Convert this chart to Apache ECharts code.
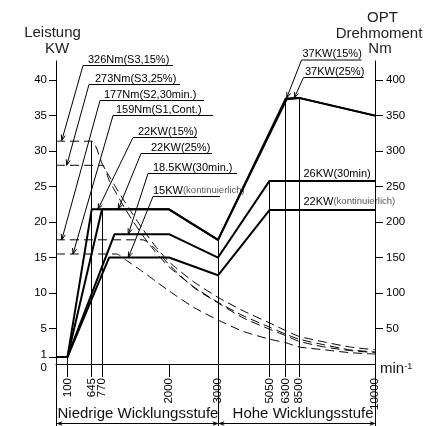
<!DOCTYPE html>
<html>
<head>
<meta charset="utf-8">
<script src="https://cdn.jsdelivr.net/npm/echarts@6/dist/echarts.min.js"></script>
<style>
  html, body { margin: 0; padding: 0; background: #fff; }
  #main { width: 444px; height: 426px; }
</style>
</head>
<body>
<div id="main"></div>
<script>
/* Drehzahl-Ticks (min-1) */
const rpmTicks = [100, 645, 770, 2000, 3000, 5050, 6300, 8500, 10000]
/* nicht lineare Abszisse: Drehzahl -> Skalenteil */
const scaleRpm = [0, 100, 645, 770, 2000, 3000, 5050, 6300, 8500, 10000]
const scalePos = [0, 11.5, 35.7, 46, 113, 162, 213.5, 229.7, 243, 319]

/* Leistung kW  [rpm, kW] */
const p15 = [[0, 1], [100, 1], [645, 21.8], [2000, 21.8], [3000, 17.5], [6300, 37.4], [8500, 37.5], [10000, 35]]
const p25 = [[0, 1], [100, 1], [770, 21.8], [2000, 21.8], [3000, 17.5], [6450, 37.3], [8500, 37.5], [10000, 35]]
const p30 = [[0, 1], [100, 1], [1000, 18.3], [2000, 18.3], [3000, 15], [5050, 25.8], [10000, 25.8]]
const pS1 = [[0, 1], [100, 1], [900, 15], [2000, 15], [3000, 12.5], [5050, 21.7], [10000, 21.7]]

/* Drehmoment Nm  [rpm, Nm] */
const tS3a = [[0, 314], [645, 314], [770, 283], [900, 265], [1000, 252], [1200, 227], [1500, 192], [1750, 166], [2000, 144], [2500, 116], [3000, 94], [4000, 75], [5050, 58], [6300, 47], [8500, 39], [9000, 31], [9500, 24], [10000, 20]]
const tS3b = [[0, 280], [770, 280], [900, 259], [1000, 245], [1200, 218], [1500, 183], [1750, 158], [2000, 137], [2500, 109], [3000, 87], [4000, 68], [5050, 52], [6300, 42], [8500, 35], [9000, 27], [9500, 20], [10000, 17]]
const tS2 = [[0, 175], [1520, 175], [1750, 162], [2000, 140], [2500, 108], [3000, 86], [4000, 65], [5050, 49], [6300, 40], [8500, 32], [9000, 24], [9500, 19], [10000, 16]]
const tS1 = [[0, 155], [1040, 155], [1200, 147], [1500, 131], [1750, 117], [2000, 103], [2500, 80], [3000, 62], [4000, 46], [5050, 35], [6300, 30], [8500, 24], [9000, 20], [9500, 16], [10000, 14]]

/* senkrechte Hilfslinien: Drehzahl und Höhe (kW) */
const dropRpm = [100, 645, 770, 3000, 5050, 6300, 8500]
const dropTop = [1, 31.4, 21.8, 17.5, 25.8, 37.4, 37.5]

const kwTicks = [1, 5, 10, 15, 20, 25, 30, 35, 40]
const nmTicks = [50, 100, 150, 200, 250, 300, 350, 400]

/* Beschriftungen mit Hinweispfeil */
const noteTexts = ['326Nm(S3,15%)', '273Nm(S3,25%)', '177Nm(S2,30min.)', '159Nm(S1,Cont.)',
  '22KW(15%)', '22KW(25%)', '18.5KW(30min.)', '15KW', '37KW(15%)', '37KW(25%)']
const noteSub = ['', '', '', '', '', '', '', '(kontinuierlich)', '', '']
/* Pfeilspitze: [rpm, Wert, Achse] */
const noteTips = [[50, 315, 1], [93, 280, 1], [50, 175, 1], [224, 155, 1],
  [721, 21.8, 0], [1069, 21.8, 0], [1253, 18.3, 0], [1253, 15, 0], [6465, 37.5, 0], [7720, 37.5, 0]]
/* Layout: Unterstrich x0, x1, y, Text-x */
const noteBox = [[83, 173, 65.5, 88], [89, 180, 84.5, 95], [100, 204, 100.5, 104], [113, 213, 115.5, 116],
  [133, 197, 137.5, 138], [141, 212, 153.5, 151], [148, 237, 173.5, 153], [153, 220, 196.5, 153],
  [301.5, 361.5, 60, 302.5], [303.5, 363.5, 77.5, 305]]

const toU = r => {
  for (let i = 1; i < scaleRpm.length; i++) {
    if (r <= scaleRpm[i]) {
      const t = (r - scaleRpm[i - 1]) / (scaleRpm[i] - scaleRpm[i - 1])
      return scalePos[i - 1] + t * (scalePos[i] - scalePos[i - 1])
    }
  }
  return scalePos[scalePos.length - 1]
}
const conv = arr => arr.map(p => [toU(p[0]), p[1]])
const tickU = rpmTicks.map(toU)

const FONT = '"Liberation Sans", Arial, sans-serif'
const NOTE = '11px ' + FONT
const SMALL = '9.5px ' + FONT
const TITLE = '15px ' + FONT

const chart = echarts.init(document.getElementById('main'))

const powerSeries = [p15, p25, p30, pS1].map((d, i) => ({
  type: 'line',
  yAxisIndex: 0,
  data: conv(d),
  symbol: 'none',
  lineStyle: { color: '#000', width: 2 },
  z: 3,
  animation: false,
  silent: true,
  markLine: i === 0 ? {
    symbol: ['none', 'none'],
    silent: true,
    animation: false,
    label: { show: false },
    lineStyle: { color: '#000', width: 1, type: 'solid' },
    data: dropRpm.map((r, k) => [{ coord: [toU(r), 0] }, { coord: [toU(r), dropTop[k]] }])
  } : undefined
}))

const torqueSeries = [tS3a, tS3b, tS2, tS1].map(d => ({
  type: 'line',
  yAxisIndex: 1,
  data: conv(d),
  symbol: 'none',
  smooth: 0.2,
  lineStyle: { color: '#000', width: 1, type: [9, 5] },
  z: 2,
  animation: false,
  silent: true
}))

chart.setOption({
  animation: false,
  backgroundColor: '#fff',
  grid: { left: 56, right: 69, top: 61, bottom: 62, containLabel: false, outerBoundsMode: 'none' },
  xAxis: {
    type: 'value',
    min: 0,
    max: 319,
    axisLine: { show: true, onZero: false, lineStyle: { color: '#000', width: 1 } },
    axisTick: { show: true, customValues: tickU, length: 13, lineStyle: { color: '#000', width: 1 } },
    axisLabel: {
      customValues: tickU,
      rotate: 90,
      margin: 14,
      color: '#000',
      fontSize: 11.5,
      fontFamily: FONT,
      formatter: v => {
        let best = 0
        tickU.forEach((u, i) => { if (Math.abs(u - v) < Math.abs(tickU[best] - v)) best = i })
        return String(rpmTicks[best])
      }
    },
    splitLine: { show: false }
  },
  yAxis: [{
    type: 'value',
    position: 'left',
    min: 0,
    max: 42.7,
    axisLine: { show: true, onZero: false, lineStyle: { color: '#000', width: 1 } },
    axisTick: { show: true, customValues: kwTicks, length: 7, lineStyle: { color: '#000', width: 1 } },
    axisLabel: {
      customValues: [0].concat(kwTicks),
      margin: 9,
      color: '#000',
      fontSize: 11.5,
      fontFamily: FONT,
      formatter: v => v === 0 ? '{z|0}' : v === 1 ? '{o|1}' : String(v),
      rich: {
        z: { fontSize: 11.5, fontFamily: FONT, color: '#000', padding: [7, 0, 0, 0] },
        o: { fontSize: 11.5, fontFamily: FONT, color: '#000', padding: [0, 0, 4, 0] }
      }
    },
    splitLine: { show: false }
  }, {
    type: 'value',
    position: 'right',
    min: 0,
    max: 427,
    axisLine: { show: true, onZero: false, lineStyle: { color: '#000', width: 1 } },
    axisTick: { show: true, customValues: nmTicks, length: 8, lineStyle: { color: '#000', width: 1 } },
    axisLabel: { customValues: nmTicks, margin: 11, color: '#000', fontSize: 11.5, fontFamily: FONT },
    splitLine: { show: false }
  }],
  series: powerSeries.concat(torqueSeries)
})

/* Pfeile, Beschriftungen, Achsentitel und Klammer unten */
const px = u => chart.convertToPixel({ xAxisIndex: 0 }, u)
const py = (v, ax) => chart.convertToPixel({ yAxisIndex: ax }, v)
const ink = { stroke: '#000', lineWidth: 1, fill: null }
const measure = document.createElement('canvas').getContext('2d')
const textWidth = (t, font) => { measure.font = font; return measure.measureText(t).width }

const arrowHead = (sx, sy, tx, ty, L) => {
  const a = Math.atan2(ty - sy, tx - sx)
  const w = 0.35
  return {
    type: 'polyline',
    shape: { points: [[tx - L * Math.cos(a - w), ty - L * Math.sin(a - w)], [tx, ty], [tx - L * Math.cos(a + w), ty - L * Math.sin(a + w)]] },
    style: ink, silent: true
  }
}
const label = (x, y, text, font, extra) => ({
  type: 'text', x, y, silent: true,
  style: Object.assign({ text, font, fill: '#000', verticalAlign: 'bottom', align: 'left' }, extra || {})
})

const gfx = []
noteTexts.forEach((t, i) => {
  const [x0, x1, y, tx] = noteBox[i]
  const [r, v, ax] = noteTips[i]
  const tipX = px(toU(r))
  const tipY = py(v, ax)
  gfx.push({ type: 'line', shape: { x1: x0, y1: y, x2: x1, y2: y }, style: ink, silent: true })
  gfx.push({ type: 'line', shape: { x1: x0, y1: y, x2: tipX, y2: tipY }, style: ink, silent: true })
  gfx.push(arrowHead(x0, y, tipX, tipY, 6))
  gfx.push(label(tx, y - 0.5, t, NOTE))
  if (noteSub[i]) gfx.push(label(tx + textWidth(t, NOTE), y - 1, noteSub[i], SMALL, { fill: '#555' }))
})

/* Beschriftung direkt über den Kennlinien (Hohe Wicklungsstufe) */
const xR = px(toU(5050)) + 34
gfx.push(label(xR, py(25.8, 0) - 1.5, '26KW(30min)', NOTE))
gfx.push(label(xR, py(21.7, 0) - 3, '22KW', NOTE))
gfx.push(label(xR + textWidth('22KW', NOTE), py(21.7, 0) - 3.5, '(kontinuierlich)', SMALL, { fill: '#555' }))

/* Achsentitel */
const xL = px(0), xRa = px(319)
gfx.push(label(xL - 3.5, 40, 'Leistung', TITLE, { fill: '#222', align: 'center' }))
gfx.push(label(xL + 1, 56, 'KW', TITLE, { fill: '#222', align: 'center' }))
gfx.push(label(xRa + 7.5, 25, 'OPT', TITLE, { fill: '#222', align: 'center' }))
gfx.push(label(xRa + 4, 41, 'Drehmoment', TITLE, { fill: '#222', align: 'center' }))
gfx.push(label(xRa + 5, 56, 'Nm', TITLE, { fill: '#222', align: 'center' }))
gfx.push(label(xRa + 5, 376, 'min', TITLE, { fill: '#111' }))
gfx.push(label(xRa + 5 + textWidth('min', TITLE), 371, '-1', '9px ' + FONT, { fill: '#111' }))

/* Klammer: Niedrige / Hohe Wicklungsstufe */
const bx0 = Math.round(xL) + 0.5
const bx1 = Math.round(px(toU(3000))) + 0.5
const bx2 = Math.round(xRa) + 0.5
const by0 = Math.round(py(0, 0)) + 0.5
const by = 423.5
;[bx0, bx1, bx2].forEach(x => gfx.push({ type: 'line', shape: { x1: x, y1: by0, x2: x, y2: 426 }, style: ink, silent: true }))
gfx.push({ type: 'line', shape: { x1: bx0 + 1, y1: by, x2: bx1 - 1, y2: by }, style: ink, silent: true })
gfx.push({ type: 'line', shape: { x1: bx1 + 1, y1: by, x2: bx2 - 1, y2: by }, style: ink, silent: true })
gfx.push(arrowHead(bx0 + 8, by, bx0 + 1, by, 5))
gfx.push(arrowHead(bx1 - 8, by, bx1 - 1, by, 5))
gfx.push(arrowHead(bx1 + 8, by, bx1 + 1, by, 5))
gfx.push(arrowHead(bx2 - 8, by, bx2 - 1, by, 5))
gfx.push(label(bx0 + 1, 421, 'Niedrige Wicklungsstufe', TITLE, { fill: '#111' }))
gfx.push(label(bx2 - 2, 421, 'Hohe Wicklungsstufe', TITLE, { fill: '#111', align: 'right' }))

chart.setOption({ graphic: gfx })
</script>
</body>
</html>
